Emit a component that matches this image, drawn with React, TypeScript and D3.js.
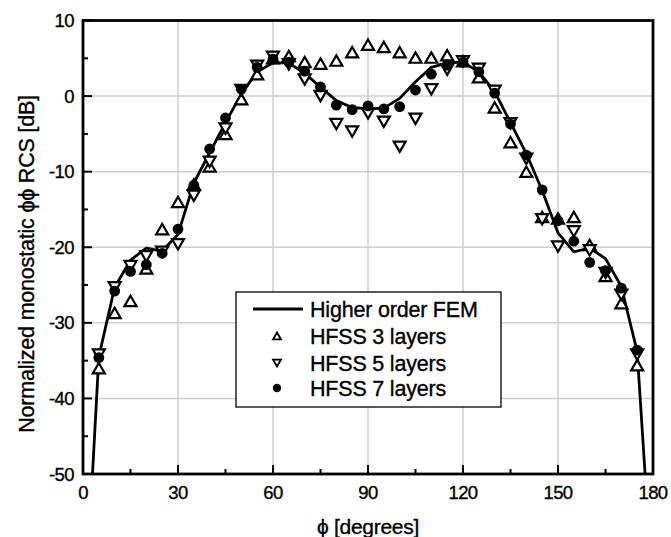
import React from "react";
import * as d3 from "d3";

// ---- data ----
const femPhi = [3, 5, 10, 15, 20, 25, 30, 35, 40, 45, 50, 55, 60, 65, 70, 75, 80, 85, 90, 95, 100, 105, 110, 115, 120, 125, 130, 135, 140, 145, 150, 155, 160, 165, 170, 175, 177.5];
const femRcs = [-50, -34.5, -25.3, -21.7, -20.1, -20.5, -18.3, -11.5, -7.5, -3.5, 0.3, 3.2, 4.4, 4.4, 3.0, 1.2, -0.6, -1.5, -1.7, -1.6, -0.3, 1.9, 3.8, 4.4, 4.5, 3.2, 0.6, -3.5, -7.6, -12.5, -18.1, -20.6, -20.1, -21.5, -25.2, -33.8, -50];

const hfssPhi = [5, 10, 15, 20, 25, 30, 35, 40, 45, 50, 55, 60, 65, 70, 75, 80, 85, 90, 95, 100, 105, 110, 115, 120, 125, 130, 135, 140, 145, 150, 155, 160, 165, 170, 175];
const hfss3 = [-36, -28.7, -27.1, -22.8, -17.6, -14.0, -11.7, -9.3, -5.0, -0.4, 2.9, 5.0, 5.3, 4.5, 4.3, 4.7, 5.8, 6.8, 6.5, 5.8, 5.1, 5.1, 5.4, 4.6, 2.5, -1.5, -6.1, -10.0, -16.0, -16.2, -16.0, -19.7, -23.8, -27.4, -35.6];
const hfss5 = [-34.2, -25.3, -22.5, -21.2, -20.6, -19.6, -13.2, -8.7, -4.3, 0.8, 4.0, 5.2, 4.2, 2.2, 0.0, -3.7, -4.7, -2.3, -3.4, -6.7, -3.0, 0.9, 3.5, 4.6, 3.6, 0.7, -3.6, -8.3, -16.3, -19.9, -17.9, -20.4, -23.4, -26.3, -34.2];
const hfss7 = [-34.6, -25.8, -23.2, -22.3, -20.8, -17.6, -11.8, -7.0, -2.9, 0.9, 3.8, 4.9, 4.5, 3.3, 1.2, -1.2, -1.8, -1.3, -1.7, -1.4, 0.8, 2.9, 4.1, 4.5, 3.2, 0.4, -3.7, -7.8, -12.4, -16.5, -19.2, -22.0, -23.1, -25.4, -33.6];

const xTicks = [0, 30, 60, 90, 120, 150, 180];
const xMinor = [15, 45, 75, 105, 135, 165];
const yTicks = [10, 0, -10, -20, -30, -40, -50];
const yMinor = [5, -5, -15, -25, -35, -45];

const legendLabels = ["Higher order FEM", "HFSS 3 layers", "HFSS 5 layers", "HFSS 7 layers"];
const xTitle = "\u03D5 [degrees]";
const yTitle = "Normalized monostatic \u03D5\u03D5 RCS [dB]";

const W = 671, H = 537;
const FONT = "'Liberation Sans', Arial, Helvetica, sans-serif";

function tri(cx: number, cy: number, w: number, up: boolean) {
  const h = w * 0.866;
  const t = cy - h / 2, b = cy + h / 2;
  return up
    ? `M${cx},${t}L${cx + w / 2},${b}L${cx - w / 2},${b}Z`
    : `M${cx},${b}L${cx + w / 2},${t}L${cx - w / 2},${t}Z`;
}

export default function App() {
  const x = d3.scaleLinear().domain([0, 180]).range([83, 653]);
  const y = d3.scaleLinear().domain([-50, 10]).range([474, 20.5]);
  const line = d3.line<number>().x((_, i) => x(femPhi[i])).y((d) => y(d));
  const left = x(0), right = x(180), top = y(10), bottom = y(-50);

  const legX = 236, legY = 292, legW = 265, legH = 115;
  const rowY = [309, 336, 363, 388];
  const symX = 277;
  const txt = { fill: "#000", stroke: "#000", strokeWidth: 0.35 } as const;

  return (
    <svg width={W} height={H} style={{ position: "absolute", left: 0, top: 0, background: "#fff" }} fontFamily={FONT}>
      <defs>
        <clipPath id="plotclip">
          <rect x={left} y={top} width={right - left} height={bottom - top} />
        </clipPath>
      </defs>
      {/* grid */}
      {xTicks.slice(1, -1).map((t) => (
        <line key={"gx" + t} x1={x(t)} x2={x(t)} y1={top} y2={bottom} stroke="#cfcfcf" strokeWidth={1.5} />
      ))}
      {yTicks.slice(1, -1).map((t) => (
        <line key={"gy" + t} x1={left} x2={right} y1={y(t)} y2={y(t)} stroke="#cfcfcf" strokeWidth={1.5} />
      ))}
      {/* legend box */}
      <rect x={legX} y={legY} width={legW} height={legH} fill="#fff" stroke="#000" strokeWidth={1.3} />
      <g clipPath="url(#plotclip)">
        <path d={line(femRcs) || ""} fill="none" stroke="#000" strokeWidth={2.8} strokeLinejoin="round" />
        {hfssPhi.map((p, i) => (
          <path key={"a" + i} d={tri(x(p), y(hfss3[i]), 12, true)} fill="#fff" stroke="#000" strokeWidth={2.2} strokeLinejoin="miter" />
        ))}
        {hfssPhi.map((p, i) => (
          <path key={"b" + i} d={tri(x(p), y(hfss5[i]), 12, false)} fill="#fff" stroke="#000" strokeWidth={2.2} strokeLinejoin="miter" />
        ))}
        {hfssPhi.map((p, i) => (
          <circle key={"c" + i} cx={x(p)} cy={y(hfss7[i])} r={5.4} fill="#000" />
        ))}
      </g>
      {/* legend content */}
      <line x1={253} x2={303} y1={rowY[0]} y2={rowY[0]} stroke="#000" strokeWidth={2.8} />
      <path d={tri(symX, rowY[1], 8, true)} fill="#fff" stroke="#000" strokeWidth={1.8} />
      <path d={tri(symX, rowY[2], 8, false)} fill="#fff" stroke="#000" strokeWidth={1.8} />
      <circle cx={symX} cy={rowY[3]} r={4.2} fill="#000" />
      {legendLabels.map((l, i) => (
        <text key={l} x={310} y={rowY[i]} dy="0.36em" fontSize={21.5} letterSpacing={-0.2} {...txt}>{l}</text>
      ))}
      {/* frame */}
      <rect x={left} y={top} width={right - left} height={bottom - top} fill="none" stroke="#000" strokeWidth={2.8} />
      {/* ticks */}
      {xTicks.map((t) => (
        <line key={"tx" + t} x1={x(t)} x2={x(t)} y1={bottom} y2={bottom - 9} stroke="#000" strokeWidth={2} />
      ))}
      {xMinor.map((t) => (
        <line key={"mx" + t} x1={x(t)} x2={x(t)} y1={bottom} y2={bottom - 5} stroke="#000" strokeWidth={2} />
      ))}
      {yTicks.map((t) => (
        <line key={"ty" + t} x1={left} x2={left + 9} y1={y(t)} y2={y(t)} stroke="#000" strokeWidth={2} />
      ))}
      {yMinor.map((t) => (
        <line key={"my" + t} x1={left} x2={left + 5} y1={y(t)} y2={y(t)} stroke="#000" strokeWidth={2} />
      ))}
      {/* tick labels */}
      {xTicks.map((t) => (
        <text key={"lx" + t} x={x(t)} y={bottom + 18} dy="0.36em" textAnchor="middle" fontSize={18.5} letterSpacing={-0.6} {...txt}>{t}</text>
      ))}
      {yTicks.map((t) => (
        <text key={"ly" + t} x={74} y={y(t)} dy="0.36em" textAnchor="end" fontSize={18.5} letterSpacing={-0.6} {...txt}>{t}</text>
      ))}
      {/* titles */}
      <text x={368} y={534} textAnchor="middle" fontSize={21} letterSpacing={-0.3} {...txt}>{xTitle}</text>
      <text transform={`translate(26,264) rotate(-90)`} dy="0.36em" textAnchor="middle" fontSize={21.5} letterSpacing={-0.2} {...txt}>{yTitle}</text>
    </svg>
  );
}
